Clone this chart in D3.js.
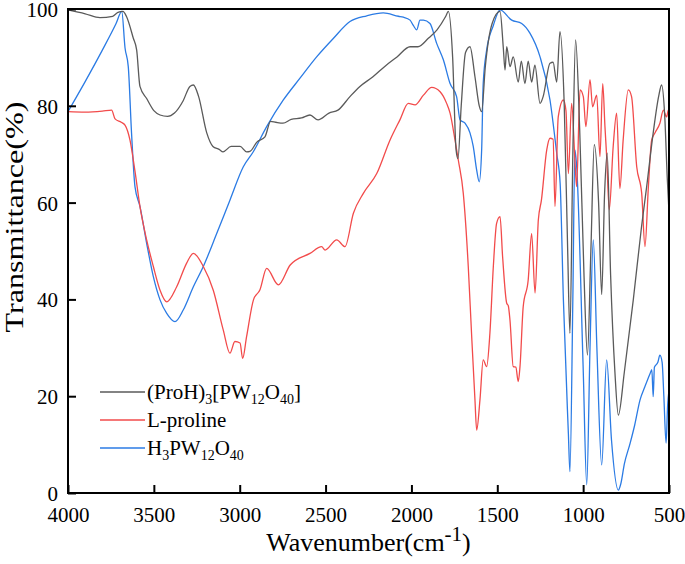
<!DOCTYPE html>
<html>
<head>
<meta charset="utf-8">
<script src="https://cdn.jsdelivr.net/npm/d3@7"></script>
<style>
  body { margin: 0; background: #fff; }
  svg text { font-family: "Liberation Serif", "Times New Roman", serif; fill: #000; }
</style>
</head>
<body>
<div class="svg"></div>
<script>
// (ProH)3[PW12O40]
const proWn = [4000,3900,3814,3740,3709,3680,3660,3620,3600,3581,3542,3500,3464,3420,3380,3330,3290,3270,3240,3192,3156,3120,3097,3050,2998,2960,2940,2900,2853,2820,2790,2748,2700,2640,2591,2544,2480,2428,2358,2300,2224,2150,2084,2008,1962,1900,1851,1800,1785,1760,1740,1729,1710,1685,1659,1630,1605,1591,1570,1530,1484,1465,1455,1445,1426,1407,1378,1360,1339,1320,1300,1281,1251,1233,1193,1175,1154,1135,1110,1090,1077,1060,1044,1020,995,975,955,935,910,892,875,860,840,815,795,760,708,660,630,592,560,543,525,510,500];
const proT  = [99.8,99,98.2,98.5,99.3,99.5,98.5,94,91.5,84,81.5,79,78.1,77.8,78.5,81,84,84.3,82,74.4,71.6,71,70.5,71.6,71.6,70.5,70.6,72.5,73.6,76.8,76.6,76.4,77.2,77.5,78.1,77.1,78.5,79.1,81.9,84,86,88.3,90.1,92.2,92.2,94,95.7,98.5,99.5,90,70.9,69.1,80,91,92.2,86,80,78.8,88,97,99.5,92,87.4,92.2,88.1,90.1,84.9,89.2,84.6,89.2,84.9,88.4,80.5,81.9,88.8,89,84.9,95.3,80,50,33,70,93.6,75,45,28.5,50,72,60,41,62,70.2,45,25,16.1,25,39.9,55,63.3,74.4,82,84.3,78,65,58];

// L-proline
const lproWn = [4000,3900,3800,3746,3726,3690,3668,3639,3610,3581,3542,3503,3464,3425,3367,3309,3270,3212,3154,3096,3057,3028,2998,2983,2960,2920,2882,2843,2775,2706,2591,2523,2503,2435,2387,2338,2280,2202,2125,2067,2018,1979,1930,1882,1833,1795,1775,1746,1727,1698,1669,1650,1630,1620,1601,1582,1562,1543,1523,1504,1484,1469,1445,1436,1426,1407,1392,1378,1368,1349,1320,1300,1280,1261,1243,1212,1193,1175,1164,1145,1115,1100,1086,1067,1048,1038,1018,999,984,960,945,921,902,886,873,863,848,825,805,786,767,737,718,688,659,640,620,601,582,553,533,514,504,500];
const lproT  = [78.8,78.7,78.9,79.1,77.3,76.6,76,72.9,66.5,59.2,52.3,46.8,41.9,39.5,42.6,47.5,49.5,46.8,41.9,33.7,28.9,31.3,31,27.8,32.3,39.9,42,46.4,43,47.1,49.5,50.9,50.2,52.3,50.9,57.8,61.9,66,72.9,77.1,80.5,80.2,82.2,83.8,82.9,80.5,78.5,72.9,68.8,61.9,46.8,33,19.2,13,19.2,27.5,26.1,33,46.8,55.7,57.1,48.8,39.2,38.7,35.7,26.1,26,23,26,38.5,44,53.6,41.3,56.4,60.5,70.9,73.3,73.1,59.2,77.7,81.2,79,66,80.5,68.8,63.3,83.3,81.9,75.7,85.4,79.8,82.2,69.5,84.6,75.7,69.5,58.5,71.6,78.5,62.9,72.9,83.3,81.9,67.4,61.9,50.9,63.3,72.9,74.4,76.4,79.1,77.7,79.1,78.5];

// H3PW12O40
const hpwWn = [4000,3900,3800,3720,3687,3668,3649,3630,3610,3581,3542,3503,3464,3425,3377,3329,3270,3212,3134,3057,2979,2921,2843,2746,2649,2552,2455,2358,2260,2164,2076,2047,2008,1989,1969,1950,1930,1892,1853,1814,1775,1737,1717,1688,1659,1640,1620,1605,1591,1582,1562,1523,1484,1416,1358,1310,1251,1193,1154,1134,1115,1086,1077,1060,1048,1038,1000,979,960,941,920,892,863,835,795,780,760,727,700,669,640,610,600,592,585,565,553,540,530,517,508,500];
const hpwT  = [78.8,85,91.5,97,99.5,92,88.1,74.4,63.3,59.2,51.6,44.7,39.9,37.1,35.4,37.8,42.6,46.8,53.6,60.5,67.4,70.5,75.7,81.2,85.7,90.1,93.9,97.4,98.6,99.2,98.5,98.3,97.7,96.6,95.7,97.7,97.7,97,92.9,89.5,84.6,81.9,77.1,76.4,74.4,71.6,66.7,64.3,70.9,84.6,91.5,96.6,99.8,97.7,97,95,90.1,81.2,70.2,64,39.9,12.3,4.4,40,70.9,67.6,26,1.7,30,52.3,30,5.8,27.5,11,0.6,2,6,10.2,14,19.2,22,24.7,25.5,19.9,26,27,28.5,27,20,10.3,18,21.3];

const xTicks = [4000,3500,3000,2500,2000,1500,1000,500];
const yTicks = [0,20,40,60,80,100];

const w = 685, h = 564;
const padL = 68, padR = 669, padT = 9, padB = 493;
const colors = {pro: "#5a5a5a", lpro: "#f24b4b", hpw: "#2b7be4"};
const serif = "'Liberation Serif', 'Times New Roman', serif";

let svg = d3.select(".svg").append("svg").attr("width", w).attr("height", h);

let xScale = d3.scaleLinear().domain([4000, 500]).range([padL, padR]);
let yScale = d3.scaleLinear().domain([0, 100]).range([padB, padT]);

let line = d3.line()
    .x(d => xScale(d[0]))
    .y(d => yScale(d[1]))
    .curve(d3.curveMonotoneX);

let series = [
    {key: "pro", data: d3.zip(proWn, proT)},
    {key: "lpro", data: d3.zip(lproWn, lproT)},
    {key: "hpw", data: d3.zip(hpwWn, hpwT)}
];

// blue first, gray on top
svg.append("g").selectAll("path")
    .data([series[2], series[1], series[0]])
    .enter()
    .append("path")
    .attr("d", d => line(d.data))
    .attr("fill", "none")
    .attr("stroke", d => colors[d.key])
    .attr("stroke-width", 1.3)
    .attr("stroke-linejoin", "round");

// axes
let xAxis = d3.axisBottom(xScale).tickValues(xTicks).tickSizeInner(-8).tickSizeOuter(0).tickPadding(14).tickFormat(d3.format("d"));
let gx = svg.append("g").attr("transform", "translate(0," + padB + ")").call(xAxis)
    .attr("font-family", serif);
gx.select(".domain").remove();
gx.selectAll("line").attr("stroke", "#000").attr("stroke-width", 2);
gx.selectAll("text").attr("font-size", 21);

let yAxis = d3.axisLeft(yScale).tickValues(yTicks).tickSizeInner(-8).tickSizeOuter(0).tickPadding(10);
let gy = svg.append("g").attr("transform", "translate(" + padL + ",0)").call(yAxis)
    .attr("font-family", serif);
gy.select(".domain").remove();
gy.selectAll("line").attr("stroke", "#000").attr("stroke-width", 2);
gy.selectAll("text").attr("font-size", 21).attr("dy", "0.36em");

svg.append("rect")
    .attr("x", padL).attr("y", padT)
    .attr("width", padR - padL).attr("height", padB - padT)
    .attr("fill", "none").attr("stroke", "#000").attr("stroke-width", 2);

// axis titles
let xt = svg.append("text")
    .attr("x", (padL + padR) / 2).attr("y", 551)
    .attr("text-anchor", "middle").attr("font-size", 26);
xt.append("tspan").text("Wavenumber(cm");
xt.append("tspan").text("-1").attr("font-size", 21).attr("dy", -10);
xt.append("tspan").text(")").attr("dy", 10);

svg.append("text")
    .attr("transform", "translate(23,217) rotate(-90)")
    .attr("text-anchor", "middle").attr("font-size", 26)
    .attr("textLength", 231).attr("lengthAdjust", "spacingAndGlyphs")
    .text("Transmittance(%)");

// legend
let legend = svg.append("g");
let legendRows = [
    {key: "pro", parts: [["(ProH)", 0], ["3", 1], ["[PW", 0], ["12", 1], ["O", 0], ["40", 1], ["]", 0]]},
    {key: "lpro", parts: [["L-proline", 0]]},
    {key: "hpw", parts: [["H", 0], ["3", 1], ["PW", 0], ["12", 1], ["O", 0], ["40", 1]]}
];
legendRows.forEach((r, i) => {
    let ly = 392 + i * 28;
    legend.append("line").attr("x1", 100).attr("x2", 145).attr("y1", ly).attr("y2", ly)
        .attr("stroke", colors[r.key]).attr("stroke-width", 1.3);
    let t = legend.append("text").attr("x", 147).attr("y", ly + 7).attr("font-size", 21);
    let prev = 0;
    r.parts.forEach(p => {
        let s = t.append("tspan").text(p[0]);
        let shift = p[1] ? 5 : 0;
        if (shift !== prev) s.attr("dy", shift - prev);
        if (p[1]) s.attr("font-size", 14);
        prev = shift;
    });
});
</script>
</body>
</html>
